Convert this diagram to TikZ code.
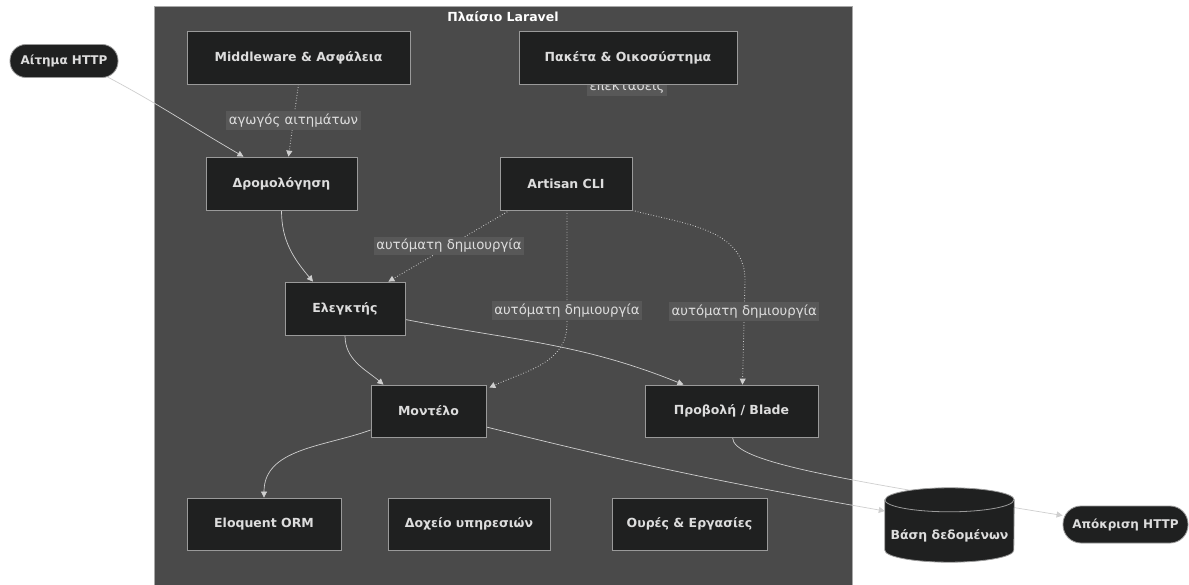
\documentclass[tikz,border=0pt]{standalone}
\usepackage{fontspec}
\setmainfont{DejaVu Sans}
\usetikzlibrary{arrows.meta,calc}
\definecolor{clusterfill}{HTML}{4A4A4A}
\definecolor{clusterline}{HTML}{A8A8A8}
\definecolor{boxfill}{HTML}{1F2020}
\definecolor{boxline}{HTML}{9A9A9A}
\definecolor{txt}{HTML}{DDDDDD}
\definecolor{lblfill}{HTML}{585858}
\definecolor{edgecol}{HTML}{CFCFCF}
\pgfdeclarelayer{bg}
\pgfdeclarelayer{edges}
\pgfsetlayers{bg,edges,main}
\tikzset{
  box/.style={draw=boxline, line width=0.8pt, fill=boxfill, text=txt, font=\fontsize{12.5}{15}\selectfont\bfseries, inner sep=0pt},
  pill/.style={draw=boxline, line width=0.8pt, fill=boxfill, text=txt, font=\fontsize{12}{14}\selectfont\bfseries, rounded corners=16pt, inner sep=0pt},
  lbl/.style={fill=lblfill, text=txt, font=\fontsize{13.3}{15}\selectfont, inner sep=2.5pt},
  edge/.style={draw=edgecol, line width=0.7pt, -{Triangle[length=6pt,width=6pt]}},
  dotedge/.style={edge, dotted, line width=0.9pt}
}
\begin{document}
\begin{tikzpicture}[x=1pt,y=1pt]
\useasboundingbox (0,0) rectangle (1189,-585);
\begin{pgfonlayer}{bg}
\fill[white] (0,0) rectangle (1189,-585);
\draw[clusterline, fill=clusterfill, line width=0.8pt] (154,-6) rectangle (852,-600);
\end{pgfonlayer}
\node[text=white, font=\fontsize{12.5}{15}\selectfont\bfseries] (title) at (503,-17) {Πλαίσιο Laravel};
% nodes
\node[pill, minimum width=108pt, minimum height=33pt] (http) at (64,-61) {Αίτημα HTTP};
\begin{pgfonlayer}{edges}
\node[lbl] (extlbl) at (627,-87) {επεκτάσεις};
\end{pgfonlayer}
\node[box, minimum width=223pt, minimum height=53pt] (mw) at (298.5,-57.5) {Middleware \& Ασφάλεια};
\node[box, minimum width=218pt, minimum height=53pt] (pkg) at (628,-57.5) {Πακέτα \& Οικοσύστημα};
\node[box, minimum width=151pt, minimum height=53pt] (route) at (281.5,-183.5) {Δρομολόγηση};
\node[box, minimum width=132pt, minimum height=53pt] (art) at (566,-183.5) {Artisan CLI};
\node[box, minimum width=120pt, minimum height=53pt] (ctrl) at (345,-308.5) {Ελεγκτής};
\node[box, minimum width=115pt, minimum height=52pt] (model) at (428.5,-411) {Μοντέλο};
\node[box, minimum width=173pt, minimum height=52pt] (view) at (731.5,-411) {Προβολή / Blade};
\node[box, minimum width=154pt, minimum height=52pt] (orm) at (264,-524) {Eloquent ORM};
\node[box, minimum width=162pt, minimum height=52pt] (svc) at (469,-524) {Δοχείο υπηρεσιών};
\node[box, minimum width=155pt, minimum height=52pt] (queue) at (689.5,-524) {Ουρές \& Εργασίες};
% database cylinder
\node[minimum width=129pt, minimum height=74pt, inner sep=0pt] (db) at (949.5,-525) {};
\draw[boxline, fill=boxfill, line width=0.8pt]
  ($(db.north west)+(0,-12)$) -- ($(db.south west)+(0,12)$)
  arc[start angle=180, end angle=360, x radius=64.5pt, y radius=12pt]
  -- ($(db.north east)+(0,-12)$)
  arc[start angle=0, end angle=180, x radius=64.5pt, y radius=12pt] -- cycle;
\draw[boxline, line width=0.8pt] ($(db.north west)+(0,-12)$)
  arc[start angle=180, end angle=360, x radius=64.5pt, y radius=12pt];
\node[text=txt, font=\fontsize{12.5}{15}\selectfont\bfseries] (dbtext) at (949.5,-536) {Βάση δεδομένων};
\node[pill, minimum width=125pt, minimum height=37pt, rounded corners=18pt] (resp) at (1125.5,-524.5) {Απόκριση HTTP};
% edges
\begin{pgfonlayer}{edges}
\draw[edge] ([xshift=-11,yshift=1]http.south east) to[out=-28,in=150] ([xshift=-38]route.north);
\draw[dotedge] (mw.south) to node[lbl]{αγωγός αιτημάτων} ([xshift=7]route.north);
\draw[edge] (route.south) to[out=-90,in=130] ([xshift=-32]ctrl.north);
\draw[dotedge] ([xshift=10]art.south west) to node[lbl]{αυτόματη δημιουργία} ([xshift=-17]ctrl.north east);
\coordinate (w1) at (567,-324);
\draw[dotedge] ([xshift=1]art.south) -- (w1) node[lbl,pos=0.88]{αυτόματη δημιουργία} to[out=-90,in=25] ([xshift=3,yshift=-3]model.north east);
\coordinate (w2) at (745,-280);
\draw[dotedge] (art.south east) to[out=-15,in=90] (w2) -- ([xshift=11]view.north) node[lbl,pos=0.3]{αυτόματη δημιουργία};
\draw[edge] (ctrl.south) to[out=-90,in=140] ([xshift=-45]model.north);
\draw[edge] ([yshift=-11]ctrl.east) to[out=-11,in=158] ([xshift=-48]view.north);
\draw[edge] ([yshift=-19]model.west) to[out=200,in=90] (orm.north);
\draw[edge] ([yshift=-16]model.east) to[out=-14,in=170] ([yshift=14]db.west);
\draw[edge] ([xshift=1]view.south) .. controls +(0,-25) and +(-220,36) .. ([yshift=9]resp.west);
\end{pgfonlayer}
\end{tikzpicture}
\end{document}
